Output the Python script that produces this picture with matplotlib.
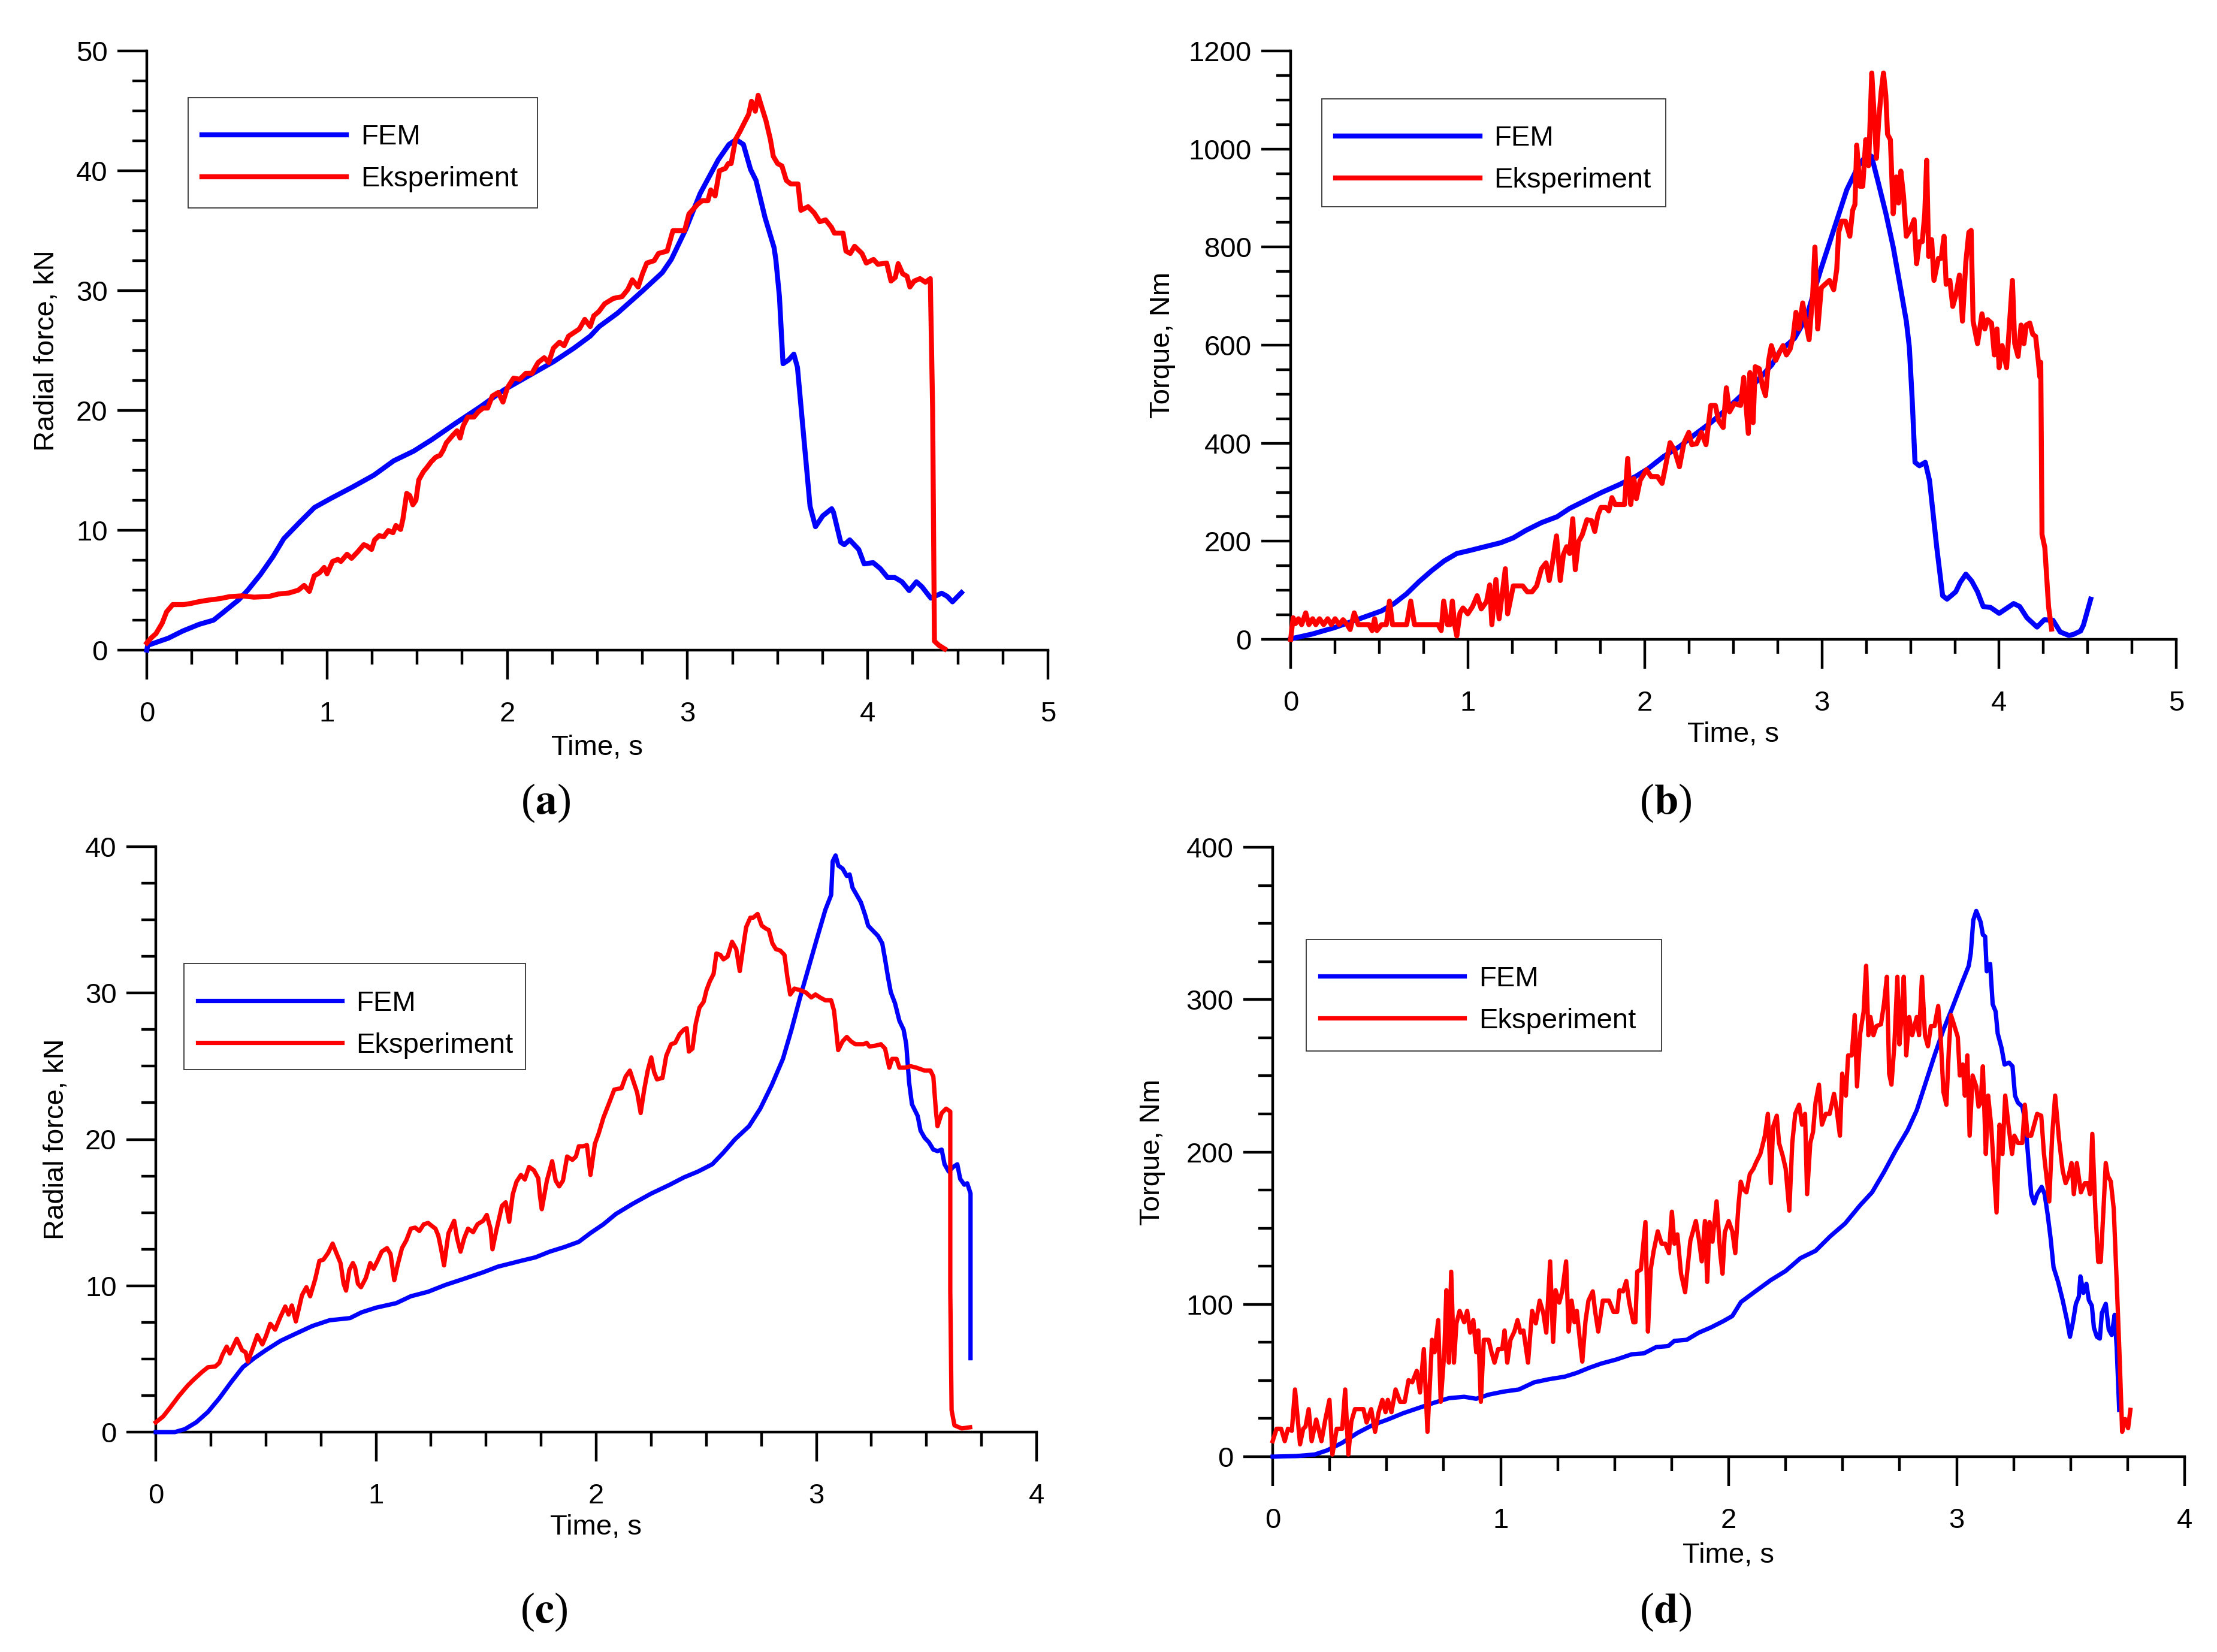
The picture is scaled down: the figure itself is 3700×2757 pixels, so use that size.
import matplotlib
matplotlib.use("Agg")
import matplotlib.pyplot as plt
from matplotlib.ticker import MultipleLocator
from matplotlib.patches import Rectangle

plt.rcParams['font.family'] = ['Liberation Sans', 'DejaVu Sans']
plt.rcParams['mathtext.fontset'] = 'stix'

# ---- (a) radial force, case 1 ----
fem_a_t = [0, 0.005, 0.12, 0.20, 0.29, 0.37, 0.42, 0.51, 0.56, 0.63, 0.70, 0.76, 0.85, 0.93, 1.02, 1.14,
           1.26, 1.37, 1.48, 1.58, 1.71, 1.85, 1.98, 2.12, 2.26, 2.37, 2.46, 2.51, 2.61, 2.75, 2.86,
           2.91, 2.99, 3.07, 3.17, 3.23, 3.27, 3.31, 3.35, 3.38, 3.43, 3.48, 3.49, 3.51, 3.53, 3.56,
           3.59, 3.61, 3.64, 3.68, 3.71, 3.75, 3.80, 3.81, 3.85, 3.87, 3.90, 3.95, 3.98, 4.03, 4.07,
           4.11, 4.15, 4.19, 4.23, 4.27, 4.30, 4.35, 4.41, 4.44, 4.47, 4.52]
fem_a_y = [0, 0.4, 1.0, 1.6, 2.15, 2.5, 3.1, 4.2, 5.0, 6.3, 7.8, 9.3, 10.7, 11.9, 12.65, 13.6,
           14.6, 15.8, 16.6, 17.55, 18.9, 20.3, 21.7, 22.9, 24.1, 25.2, 26.2, 27.0, 28.1, 29.97, 31.5,
           32.6, 35.1, 38.1, 40.9, 42.2, 42.6, 42.2, 40.1, 39.2, 36.1, 33.6, 32.6, 29.5, 23.9, 24.2,
           24.7, 23.6, 18.6, 12.0, 10.3, 11.2, 11.8, 11.5, 9.0, 8.8, 9.2, 8.4, 7.2, 7.3, 6.8,
           6.06, 6.06, 5.7, 4.97, 5.7, 5.3, 4.34, 4.75, 4.5, 4.03, 4.8]

exp_a_t = [0, 0.025, 0.051, 0.085, 0.11, 0.144, 0.204, 0.246, 0.288, 0.339, 0.407, 0.458, 0.526, 0.594,
           0.678, 0.729, 0.789, 0.84, 0.873, 0.902, 0.929, 0.958, 0.984, 1.0, 1.031, 1.06, 1.077, 1.111,
           1.136, 1.17, 1.204, 1.221, 1.247, 1.264, 1.289, 1.315, 1.34, 1.366, 1.382, 1.408, 1.421, 1.442,
           1.459, 1.476, 1.493, 1.509, 1.535, 1.552, 1.577, 1.603, 1.628, 1.645, 1.662, 1.696, 1.721,
           1.738, 1.755, 1.781, 1.815, 1.84, 1.866, 1.891, 1.917, 1.95, 1.976, 2.001, 2.035, 2.069, 2.103,
           2.137, 2.171, 2.205, 2.23, 2.256, 2.29, 2.315, 2.34, 2.40, 2.43, 2.46, 2.48, 2.508, 2.54, 2.589,
           2.637, 2.669, 2.694, 2.726, 2.75, 2.774, 2.815, 2.839, 2.887, 2.919, 2.984, 3.008, 3.056, 3.081,
           3.113, 3.129, 3.153, 3.177, 3.21, 3.226, 3.242, 3.266, 3.29, 3.315, 3.339, 3.355, 3.376, 3.392,
           3.41, 3.435, 3.46, 3.476, 3.50, 3.524, 3.548, 3.573, 3.613, 3.629, 3.669, 3.702, 3.734, 3.766,
           3.798, 3.815, 3.863, 3.879, 3.903, 3.927, 3.968, 3.992, 4.032, 4.056, 4.105, 4.129, 4.153, 4.169,
           4.194, 4.218, 4.234, 4.258, 4.29, 4.32, 4.347, 4.36, 4.37, 4.395, 4.427]
exp_a_y = [0.6, 1.03, 1.38, 2.24, 3.2, 3.8, 3.8, 3.9, 4.04, 4.17, 4.3, 4.46, 4.53, 4.42,
           4.48, 4.68, 4.77, 5.0, 5.4, 4.9, 6.2, 6.45, 6.9, 6.37, 7.4, 7.57, 7.4, 8.0,
           7.66, 8.2, 8.8, 8.7, 8.4, 9.2, 9.55, 9.47, 9.98, 9.8, 10.4, 10.07, 10.93, 13.08,
           12.9, 12.13, 12.5, 14.2, 14.9, 15.2, 15.7, 16.1, 16.26, 16.7, 17.3, 17.9, 18.3,
           17.7, 18.7, 19.45, 19.45, 19.9, 20.2, 20.2, 21.2, 21.5, 20.7, 21.9, 22.7, 22.6, 23.1,
           23.1, 24.0, 24.4, 24.0, 25.2, 25.7, 25.4, 26.2, 26.8, 27.6, 27.0, 27.9, 28.25, 28.9, 29.35,
           29.5, 30.1, 30.9, 30.3, 31.4, 32.3, 32.5, 33.1, 33.3, 35.0, 35.0, 36.4, 37.2, 37.5,
           37.5, 38.4, 37.9, 40.0, 40.2, 40.6, 40.6, 42.6, 43.25, 44.0, 44.7, 45.8, 44.97, 46.3,
           45.4, 44.2, 42.6, 41.2, 40.6, 40.4, 39.2, 38.9, 38.9, 36.7, 37.0, 36.5, 35.75, 35.9,
           35.3, 34.8, 34.8, 33.3, 33.1, 33.7, 33.1, 32.3, 32.6, 32.2, 32.3, 30.8, 31.1, 32.25,
           31.4, 31.2, 30.3, 30.8, 31.0, 30.7, 31.0, 20.1, 0.75, 0.4, 0.1]

# ---- (b) torque, case 1 ----
fem_b_t = [0, 0.124, 0.248, 0.389, 0.513, 0.584, 0.655, 0.726, 0.796, 0.867, 0.938, 1.009, 1.097, 1.186,
           1.257, 1.327, 1.416, 1.504, 1.575, 1.664, 1.752, 1.858, 1.947, 2.018, 2.106, 2.195, 2.283,
           2.372, 2.46, 2.549, 2.637, 2.717, 2.763, 2.845, 2.911, 2.993, 3.075, 3.14, 3.206, 3.255, 3.28,
           3.32, 3.361, 3.402, 3.443, 3.476, 3.493, 3.509, 3.525, 3.55, 3.583, 3.607, 3.648, 3.681, 3.706,
           3.755, 3.78, 3.812, 3.845, 3.878, 3.91, 3.952, 4.0, 4.041, 4.082, 4.116, 4.157, 4.214, 4.255,
           4.304, 4.345, 4.394, 4.419, 4.46, 4.476, 4.517]
fem_b_y = [1, 11, 24, 42, 58, 73, 93, 118, 140, 160, 175, 181, 189, 197,
           207, 222, 238, 250, 267, 283, 299, 316, 332, 348, 373, 393, 418,
           442, 469, 499, 528, 560, 588, 614, 656, 754, 845, 917, 966, 989, 985,
           928, 868, 800, 717, 649, 596, 490, 361, 354, 361, 324, 187, 89, 82,
           97, 116, 133, 119, 97, 67, 65, 53, 63, 73, 67, 44, 25, 40,
           39, 15, 8, 10, 17, 29, 82]

exp_b_t = [0, 0.014, 0.027, 0.044, 0.062, 0.085, 0.103, 0.124, 0.142, 0.163, 0.186, 0.209, 0.230, 0.251,
           0.274, 0.296, 0.319, 0.336, 0.359, 0.381, 0.442, 0.46, 0.474, 0.487, 0.513, 0.54, 0.558, 0.575,
           0.655, 0.678, 0.699, 0.832, 0.85, 0.864, 0.885, 0.9, 0.913, 0.926, 0.938, 0.956, 0.973, 1.0,
           1.027, 1.053, 1.076, 1.106, 1.124, 1.136, 1.159, 1.177, 1.212, 1.225, 1.257, 1.31, 1.336, 1.363,
           1.389, 1.416, 1.442, 1.46, 1.478, 1.501, 1.522, 1.54, 1.558, 1.575, 1.593, 1.607, 1.625, 1.646,
           1.673, 1.699, 1.717, 1.735, 1.752, 1.779, 1.796, 1.814, 1.832, 1.885, 1.903, 1.92, 1.938, 1.952,
           1.973, 2.009, 2.035, 2.071, 2.097, 2.115, 2.142, 2.168, 2.195, 2.221, 2.248, 2.265, 2.292, 2.319,
           2.345, 2.372, 2.398, 2.416, 2.442, 2.46, 2.478, 2.504, 2.54, 2.558, 2.584, 2.593, 2.611, 2.623,
           2.646, 2.664, 2.681, 2.699, 2.714, 2.739, 2.763, 2.78, 2.799, 2.82, 2.837, 2.853, 2.87, 2.891,
           2.911, 2.927, 2.947, 2.96, 2.976, 2.996, 3.017, 3.042, 3.066, 3.083, 3.094, 3.111, 3.132, 3.157,
           3.173, 3.186, 3.196, 3.214, 3.23, 3.247, 3.263, 3.281, 3.296, 3.307, 3.32, 3.334, 3.347, 3.36,
           3.37, 3.386, 3.402, 3.419, 3.432, 3.445, 3.46, 3.476, 3.5, 3.52, 3.534, 3.55, 3.566, 3.58,
           3.591, 3.602, 3.619, 3.632, 3.657, 3.673, 3.689, 3.701, 3.722, 3.738, 3.755, 3.776, 3.793, 3.812,
           3.829, 3.842, 3.853, 3.878, 3.903, 3.919, 3.935, 3.957, 3.973, 3.988, 4.0, 4.017, 4.042, 4.058,
           4.075, 4.088, 4.107, 4.124, 4.14, 4.153, 4.173, 4.19, 4.206, 4.222, 4.23, 4.235, 4.242, 4.258,
           4.279, 4.296]
exp_b_y = [0, 44, 32, 42, 30, 54, 30, 42, 30, 42, 30, 42, 30, 42,
           30, 40, 30, 20, 54, 30, 30, 18, 42, 18, 30, 30, 78, 30,
           30, 78, 30, 30, 18, 78, 30, 30, 78, 30, 7, 54, 64, 52,
           67, 89, 62, 77, 111, 30, 122, 42, 144, 52, 109, 109, 97, 97,
           109, 144, 156, 120, 156, 211, 120, 173, 189, 175, 246, 142, 199, 213,
           244, 242, 220, 254, 269, 269, 262, 289, 275, 275, 369, 275, 328, 287,
           324, 346, 332, 332, 318, 350, 401, 385, 352, 401, 422, 397, 399, 422,
           397, 477, 477, 446, 432, 513, 464, 481, 477, 534, 420, 544, 442, 556,
           552, 516, 497, 569, 599, 569, 588, 599, 580, 592, 618, 667, 633, 686,
           641, 611, 701, 800, 633, 717, 724, 732, 713, 754, 830, 853, 853, 822,
           875, 887, 1008, 924, 924, 1019, 966, 1155, 1057, 981, 1057, 1117, 1155, 1110,
           1030, 1019, 868, 943, 890, 955, 905, 822, 837, 856, 766, 811, 811, 868,
           977, 781, 815, 732, 777, 777, 822, 724, 732, 679, 701, 743, 649, 769,
           830, 834, 649, 603, 664, 633, 652, 645, 580, 633, 554, 599, 554, 641,
           732, 603, 577, 641, 603, 641, 645, 622, 618, 565, 535, 565, 214, 187,
           67, 21]

# ---- (c) radial force, case 2 ----
fem_c_t = [0, 0.086, 0.132, 0.184, 0.237, 0.289, 0.342, 0.395, 0.447, 0.5, 0.566, 0.632, 0.711, 0.789,
           0.882, 0.934, 1.0, 1.092, 1.158, 1.237, 1.316, 1.395, 1.487, 1.553, 1.658, 1.724, 1.789, 1.855,
           1.921, 1.974, 2.033, 2.089, 2.166, 2.25, 2.334, 2.398, 2.462, 2.527, 2.578, 2.63, 2.694, 2.745,
           2.797, 2.848, 2.887, 2.926, 2.964, 3.003, 3.041, 3.067, 3.074, 3.087, 3.1, 3.119, 3.138, 3.151,
           3.164, 3.183, 3.202, 3.222, 3.235, 3.254, 3.28, 3.299, 3.312, 3.325, 3.338, 3.357, 3.377, 3.396,
           3.408, 3.421, 3.434, 3.46, 3.473, 3.492, 3.511, 3.531, 3.55, 3.569, 3.582, 3.601, 3.62, 3.64,
           3.653, 3.672, 3.685, 3.7, 3.7]
fem_c_y = [0, 0, 0.2, 0.67, 1.38, 2.32, 3.41, 4.43, 5.05, 5.6, 6.23, 6.7, 7.25, 7.64,
           7.79, 8.18, 8.5, 8.81, 9.28, 9.59, 10.06, 10.45, 10.92, 11.3, 11.7, 11.94, 12.33, 12.64,
           13.0, 13.6, 14.2, 14.9, 15.6, 16.3, 16.9, 17.4, 17.8, 18.3, 19.1, 20.0, 20.9, 22.1,
           23.7, 25.5, 27.5, 29.7, 31.7, 33.75, 35.7, 36.7, 39.0, 39.4, 38.7, 38.5, 38.0, 38.1,
           37.2, 36.7, 36.2, 35.3, 34.6, 34.3, 33.9, 33.4, 32.3, 31.1, 30.05, 29.3, 28.1, 27.5,
           26.5, 23.9, 22.4, 21.6, 20.6, 20.1, 19.8, 19.3, 19.2, 19.3, 18.3, 17.8, 18.1, 18.3,
           17.3, 16.9, 17.0, 16.3, 5.05]

exp_c_t = [0, 0.033, 0.066, 0.105, 0.145, 0.171, 0.211, 0.237, 0.27, 0.289, 0.303, 0.322, 0.336, 0.368,
           0.392, 0.408, 0.418, 0.441, 0.461, 0.484, 0.5, 0.52, 0.542, 0.566, 0.588, 0.603, 0.618, 0.636,
           0.664, 0.684, 0.701, 0.724, 0.743, 0.761, 0.783, 0.803, 0.822, 0.839, 0.853, 0.864, 0.879, 0.895,
           0.905, 0.918, 0.932, 0.954, 0.974, 0.989, 1.007, 1.026, 1.05, 1.066, 1.083, 1.099, 1.118, 1.138,
           1.158, 1.178, 1.197, 1.217, 1.237, 1.25, 1.27, 1.283, 1.296, 1.309, 1.329, 1.355, 1.368, 1.384,
           1.401, 1.418, 1.441, 1.461, 1.487, 1.503, 1.52, 1.529, 1.546, 1.553, 1.572, 1.589, 1.605, 1.621,
           1.638, 1.658, 1.676, 1.695, 1.717, 1.737, 1.745, 1.753, 1.776, 1.8, 1.816, 1.832, 1.849, 1.868,
           1.892, 1.908, 1.921, 1.941, 1.958, 1.974, 1.994, 2.011, 2.033, 2.063, 2.082, 2.115, 2.134, 2.153,
           2.166, 2.186, 2.202, 2.218, 2.234, 2.25, 2.263, 2.276, 2.301, 2.318, 2.34, 2.359, 2.379, 2.398,
           2.411, 2.421, 2.437, 2.452, 2.469, 2.488, 2.501, 2.516, 2.533, 2.546, 2.564, 2.578, 2.597, 2.617,
           2.636, 2.652, 2.668, 2.681, 2.7, 2.713, 2.733, 2.752, 2.771, 2.784, 2.8, 2.816, 2.836, 2.855,
           2.868, 2.881, 2.9, 2.926, 2.951, 2.977, 2.996, 3.016, 3.041, 3.067, 3.08, 3.093, 3.099, 3.119,
           3.138, 3.157, 3.177, 3.215, 3.228, 3.241, 3.267, 3.293, 3.312, 3.322, 3.331, 3.344, 3.364, 3.377,
           3.402, 3.428, 3.454, 3.473, 3.492, 3.518, 3.531, 3.543, 3.55, 3.569, 3.589, 3.608, 3.608, 3.614,
           3.627, 3.66, 3.698]
exp_c_y = [0.67, 1.06, 1.69, 2.47, 3.18, 3.57, 4.12, 4.43, 4.48, 4.74, 5.29, 5.84, 5.37, 6.38,
           5.6, 5.45, 4.82, 5.76, 6.62, 5.99, 6.54, 7.4, 7.0, 7.87, 8.58, 8.03, 8.65, 7.56,
           9.36, 9.9, 9.28, 10.45, 11.7, 11.78, 12.25, 12.88, 12.17, 11.55, 10.14, 9.67, 11.08, 11.55,
           11.24, 10.14, 9.9, 10.53, 11.55, 11.16, 11.7, 12.33, 12.57, 12.17, 10.38, 11.47, 12.57, 13.11,
           13.9, 13.97, 13.74, 14.2, 14.29, 14.13, 13.9, 13.43, 12.49, 11.39, 13.58, 14.44, 13.27, 12.33,
           13.27, 13.9, 13.66, 14.2, 14.44, 14.84, 13.9, 12.49, 13.74, 14.2, 15.46, 15.7, 14.37, 16.24,
           17.1, 17.57, 17.26, 18.12, 17.89, 17.34, 16.09, 15.23, 17.18, 18.51, 17.18, 16.79, 17.18, 18.83,
           18.6, 18.83, 19.53, 19.53, 19.61, 17.57, 19.69, 20.39, 21.49, 22.65, 23.4, 23.5, 24.3, 24.7,
           24.1, 23.2, 21.8, 23.4, 24.7, 25.6, 24.6, 24.1, 24.2, 25.7, 26.5, 26.6, 27.2, 27.5,
           27.6, 26.0, 26.2, 27.9, 29.0, 29.4, 30.2, 30.8, 31.3, 32.7, 32.6, 32.3, 32.5, 33.5,
           33.0, 31.5, 33.2, 34.5, 35.15, 35.15, 35.4, 34.6, 34.4, 34.3, 33.4, 33.0, 32.9, 32.6,
           31.1, 29.9, 30.3, 30.2, 30.05, 29.7, 29.9, 29.7, 29.5, 29.5, 28.8, 27.0, 26.1, 26.7,
           27.0, 26.7, 26.5, 26.5, 26.6, 26.35, 26.4, 26.5, 26.2, 25.5, 24.9, 25.5, 25.5, 24.9,
           24.9, 25.0, 24.9, 24.8, 24.7, 24.7, 24.3, 21.9, 20.9, 21.8, 22.1, 21.9, 9.6, 1.5,
           0.46, 0.25, 0.33]

# ---- (d) torque, case 2 ----
fem_d_t = [0, 0.104, 0.184, 0.238, 0.305, 0.372, 0.439, 0.505, 0.572, 0.639, 0.706, 0.773, 0.84, 0.893,
           0.947, 1.013, 1.08, 1.147, 1.214, 1.281, 1.334, 1.388, 1.441, 1.508, 1.575, 1.628, 1.682, 1.735,
           1.762, 1.816, 1.869, 1.922, 1.976, 2.016, 2.054, 2.119, 2.185, 2.25, 2.315, 2.381, 2.446, 2.511,
           2.577, 2.629, 2.681, 2.733, 2.785, 2.825, 2.864, 2.903, 2.942, 2.981, 3.021, 3.053, 3.062, 3.073,
           3.086, 3.105, 3.115, 3.125, 3.132, 3.147, 3.158, 3.171, 3.18, 3.197, 3.21, 3.23, 3.245, 3.256,
           3.269, 3.288, 3.301, 3.314, 3.327, 3.34, 3.353, 3.373, 3.386, 3.399, 3.412, 3.425, 3.445, 3.465,
           3.484, 3.497, 3.51, 3.523, 3.536, 3.543, 3.556, 3.569, 3.58, 3.593, 3.602, 3.615, 3.628, 3.637,
           3.654, 3.667, 3.68, 3.693, 3.702, 3.713]
fem_d_y = [0, 0.4, 1.4, 4.1, 9.1, 15.6, 20.8, 24.4, 28.5, 31.9, 35.3, 38.4, 39.3, 38.0,
           40.7, 42.7, 44.1, 48.8, 50.9, 52.5, 55.0, 58.3, 61.1, 63.8, 67.2, 67.8, 71.9, 72.6,
           76.0, 76.7, 81.4, 84.8, 88.9, 92.3, 101.5, 108.7, 115.9, 121.9, 130.3, 135.1, 144.7, 153.1,
           165.1, 173.5, 186.7, 201.1, 214.3, 227.4, 245.4, 263.4, 280.2, 294.6, 310.2, 322.2, 330.6, 352.2,
           358.2, 351.0, 342.6, 341.4, 318.6, 323.4, 297.0, 292.2, 277.8, 268.2, 257.4, 258.6, 256.2, 237.0,
           232.3, 229.8, 220.3, 196.3, 172.3, 166.3, 172.3, 177.1, 172.3, 159.1, 143.5, 124.3, 114.7, 102.7,
           89.5, 78.7, 88.3, 100.3, 105.1, 118.3, 107.5, 113.5, 102.7, 99.1, 84.7, 78.7, 77.5, 94.3,
           100.3, 83.5, 79.9, 93.1, 71.5, 30.7]

exp_d_t = [0, 0.017, 0.037, 0.053, 0.067, 0.084, 0.098, 0.12, 0.134, 0.144, 0.158, 0.171, 0.191, 0.214,
           0.231, 0.249, 0.262, 0.281, 0.305, 0.318, 0.332, 0.345, 0.361, 0.398, 0.412, 0.432, 0.449, 0.465,
           0.481, 0.495, 0.505, 0.521, 0.539, 0.559, 0.579, 0.596, 0.612, 0.632, 0.646, 0.663, 0.679, 0.699,
           0.71, 0.726, 0.737, 0.753, 0.762, 0.773, 0.783, 0.795, 0.806, 0.82, 0.84, 0.853, 0.866, 0.88,
           0.893, 0.902, 0.913, 0.926, 0.947, 0.96, 0.973, 0.989, 1.007, 1.017, 1.029, 1.043, 1.06, 1.074,
           1.087, 1.1, 1.12, 1.138, 1.154, 1.171, 1.187, 1.2, 1.217, 1.23, 1.241, 1.257, 1.27, 1.287,
           1.298, 1.311, 1.324, 1.334, 1.348, 1.358, 1.372, 1.385, 1.404, 1.414, 1.428, 1.448, 1.475, 1.495,
           1.511, 1.521, 1.537, 1.551, 1.564, 1.582, 1.591, 1.599, 1.615, 1.635, 1.646, 1.658, 1.671, 1.689,
           1.706, 1.722, 1.738, 1.751, 1.762, 1.775, 1.791, 1.809, 1.832, 1.856, 1.869, 1.882, 1.896, 1.906,
           1.916, 1.929, 1.947, 1.963, 1.973, 1.983, 2.0, 2.016, 2.029, 2.043, 2.053, 2.063, 2.078, 2.093,
           2.109, 2.119, 2.139, 2.159, 2.172, 2.185, 2.195, 2.211, 2.221, 2.237, 2.25, 2.266, 2.279, 2.292,
           2.309, 2.322, 2.335, 2.344, 2.358, 2.37, 2.381, 2.396, 2.409, 2.426, 2.443, 2.462, 2.472, 2.488,
           2.498, 2.514, 2.524, 2.54, 2.553, 2.563, 2.577, 2.592, 2.603, 2.613, 2.622, 2.635, 2.648, 2.668,
           2.681, 2.694, 2.704, 2.714, 2.727, 2.74, 2.749, 2.759, 2.768, 2.779, 2.792, 2.805, 2.825, 2.835,
           2.848, 2.861, 2.874, 2.887, 2.903, 2.919, 2.929, 2.942, 2.955, 2.966, 2.975, 2.988, 3.005, 3.014,
           3.027, 3.036, 3.047, 3.057, 3.07, 3.086, 3.096, 3.105, 3.115, 3.128, 3.138, 3.151, 3.175, 3.188,
           3.201, 3.213, 3.227, 3.243, 3.253, 3.269, 3.288, 3.299, 3.311, 3.327, 3.353, 3.371, 3.383, 3.406,
           3.419, 3.432, 3.449, 3.465, 3.478, 3.491, 3.504, 3.514, 3.527, 3.545, 3.562, 3.575, 3.585, 3.595,
           3.608, 3.621, 3.632, 3.645, 3.654, 3.663, 3.676, 3.689, 3.702, 3.715, 3.726, 3.739, 3.752, 3.762]
exp_d_y = [10.2, 18.3, 18.3, 10.2, 18.3, 17.0, 44.1, 8.1, 18.3, 19.7, 31.2, 10.2, 24.4, 10.2,
           24.4, 37.3, 1.4, 18.3, 18.3, 44.1, 1.4, 23.1, 31.2, 31.2, 22.4, 31.2, 16.3, 29.2,
           37.3, 29.2, 37.3, 29.2, 44.1, 36.0, 36.0, 50.2, 48.8, 56.3, 42.1, 70.6, 16.3, 76.7,
           68.5, 89.6, 36.0, 69.2, 109.2, 61.7, 121.4, 61.7, 87.5, 95.7, 88.2, 95.7, 81.4, 89.6,
           68.5, 82.8, 36.0, 76.7, 76.7, 68.5, 61.7, 70.6, 70.6, 82.8, 61.7, 76.7, 82.1, 89.6,
           81.4, 82.8, 61.7, 95.7, 87.5, 102.4, 94.3, 81.4, 128.2, 75.3, 109.2, 101.1, 108.5, 128.2,
           82.1, 102.4, 88.2, 95.7, 75.3, 62.4, 88.9, 102.4, 108.5, 95.7, 82.1, 102.4, 102.4, 95.0,
           95.0, 109.2, 108.5, 115.3, 101.1, 88.2, 88.2, 121.4, 122.8, 154.0, 82.1, 122.8, 135.0, 147.9,
           139.8, 139.8, 133.6, 160.8, 139.8, 145.9, 120.1, 107.9, 141.8, 154.7, 143.1, 128.2, 154.7, 114.7,
           154.0, 141.1, 167.6, 133.6, 120.1, 147.2, 154.7, 147.9, 133.6, 164.9, 180.5, 175.7, 173.5, 185.5,
           189.1, 192.7, 198.7, 210.7, 225.0, 179.5, 216.6, 223.8, 205.9, 197.5, 189.1, 161.5, 205.9, 225.0,
           231.0, 217.9, 225.0, 172.3, 205.9, 213.1, 232.3, 244.2, 217.9, 225.0, 225.0, 238.2, 229.8, 210.7,
           251.4, 237.0, 263.4, 263.4, 289.8, 243.0, 277.8, 292.2, 322.2, 276.6, 288.6, 276.6, 282.6, 283.8,
           297.0, 315.0, 251.4, 244.2, 270.6, 315.0, 270.6, 291.0, 315.0, 263.4, 288.6, 276.6, 288.6, 276.6,
           315.0, 276.6, 269.4, 282.6, 282.6, 295.8, 277.8, 239.4, 231.0, 268.2, 289.8, 283.8, 275.4, 250.2,
           257.4, 237.0, 263.4, 210.7, 250.2, 243.0, 229.8, 232.3, 256.2, 198.7, 237.0, 217.9, 160.3, 217.9,
           198.7, 237.0, 217.9, 198.7, 210.7, 205.9, 205.9, 231.0, 210.7, 210.7, 225.0, 223.8, 198.7, 167.5,
           210.7, 237.0, 208.3, 187.9, 179.5, 184.3, 192.7, 172.3, 192.7, 173.5, 179.5, 179.5, 172.3, 211.9,
           162.7, 127.9, 127.9, 165.1, 192.7, 184.3, 180.7, 162.7, 114.7, 64.3, 16.3, 24.7, 18.7, 30.7]

series_labels = ['FEM', 'Eksperiment']
panel_letters = ['a', 'b', 'c', 'd']

FS = 34


def style_axes(ax, xmax, ymax, ymajor, yminor, ylabel, ylab_x, xlab_y):
    ax.set_xlim(0, xmax)
    ax.set_ylim(0, ymax)
    ax.spines['top'].set_visible(False)
    ax.spines['right'].set_visible(False)
    ax.spines['left'].set_linewidth(3.2)
    ax.spines['bottom'].set_linewidth(3.2)
    ax.xaxis.set_major_locator(MultipleLocator(1))
    ax.xaxis.set_minor_locator(MultipleLocator(0.25))
    ax.yaxis.set_major_locator(MultipleLocator(ymajor))
    ax.yaxis.set_minor_locator(MultipleLocator(yminor))
    ax.tick_params(which='major', direction='out', length=35, width=3.2, labelsize=FS)
    ax.tick_params(which='minor', direction='out', length=17, width=3.2)
    ax.tick_params(axis='x', which='major', pad=26)
    ax.tick_params(axis='y', which='major', pad=12)
    ax.set_xlabel('Time, s', fontsize=FS)
    ax.set_ylabel(ylabel, fontsize=FS)
    ax.xaxis.set_label_coords(0.5, xlab_y)
    ax.xaxis.label.set_va('center')
    ax.yaxis.set_label_coords(ylab_x, 0.5)
    ax.yaxis.label.set_va('center')


def draw(ax, ft, fy, et, ey, lw, box, ax_h_px):
    ax.plot(ft, fy, color='#0000ff', lw=lw, label=series_labels[0], clip_on=False, zorder=3)
    ax.plot(et, ey, color='#ff0000', lw=lw, label=series_labels[1], clip_on=False, zorder=4)
    x0, x1, y0, y1 = box
    frame = Rectangle((x0, y0), x1 - x0, y1 - y0, transform=ax.transAxes, facecolor='white',
                      edgecolor='#333333', lw=1.3, zorder=5)
    ax.add_patch(frame)
    leg = ax.legend(loc='upper left', bbox_to_anchor=(x0, y1 - 21 / ax_h_px), borderaxespad=0,
                    fontsize=FS, frameon=False, handlelength=5.1, handletextpad=0.5,
                    borderpad=0.49, labelspacing=0.55)
    leg.set_zorder(6)


fig = plt.figure(figsize=(37, 27.57), dpi=100)
W, H = 3700, 2757

ax_a = fig.add_axes([245 / W, 1 - 1085 / H, 1504 / W, 1000 / H])
ax_b = fig.add_axes([2154 / W, 1 - 1067 / H, 1478 / W, 982 / H])
ax_c = fig.add_axes([260 / W, 1 - 2390 / H, 1470 / W, 977 / H])
ax_d = fig.add_axes([2124 / W, 1 - 2431 / H, 1522 / W, 1017 / H])

draw(ax_a, fem_a_t, fem_a_y, exp_a_t, exp_a_y, 6.0, (0.046, 0.4335, 0.738, 0.922), 1000)
draw(ax_b, fem_b_t, fem_b_y, exp_b_t, exp_b_y, 6.0, (0.035, 0.4235, 0.735, 0.9185), 982)
draw(ax_c, fem_c_t, fem_c_y, exp_c_t, exp_c_y, 5.2, (0.032, 0.42, 0.619, 0.80), 977)
draw(ax_d, fem_d_t, fem_d_y, exp_d_t, exp_d_y, 5.2, (0.037, 0.4264, 0.666, 0.849), 1017)

style_axes(ax_a, 5, 50, 10, 2.5, 'Radial force, kN', -0.111, -0.163)
style_axes(ax_b, 5, 1200, 200, 50, 'Torque, Nm', -0.145, -0.162)
style_axes(ax_c, 4, 40, 10, 2.5, 'Radial force, kN', -0.113, -0.163)
style_axes(ax_d, 4, 400, 100, 25, 'Torque, Nm', -0.132, -0.162)

letter_pos = [(911, 1340), (2780, 1340), (908, 2690), (2780, 2690)]
for letter, (px, py) in zip(panel_letters, letter_pos):
    fig.text(px / W, 1 - py / H, r'($\mathbf{%s}$)' % letter, fontsize=52,
             family=['Liberation Serif', 'DejaVu Serif'], ha='center', va='center')

fig.savefig('out.png', dpi=100, facecolor='white')
